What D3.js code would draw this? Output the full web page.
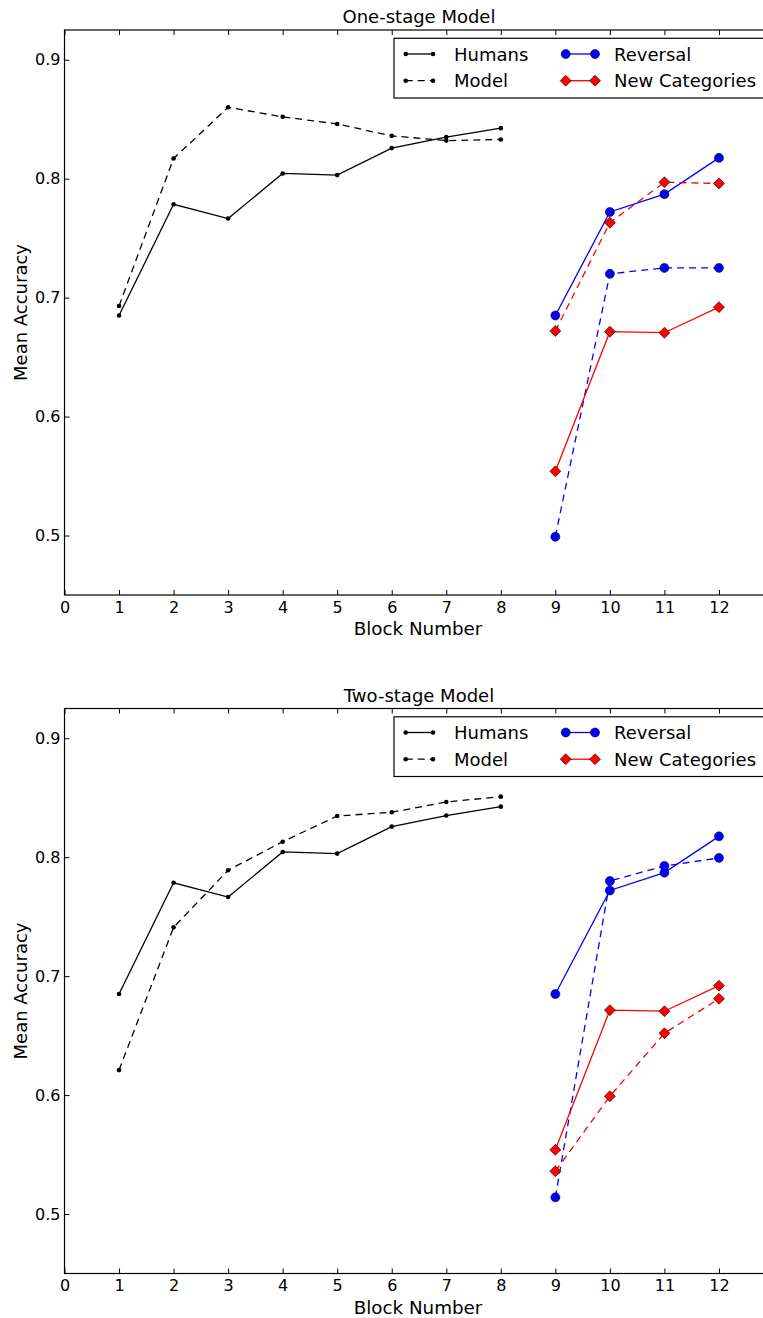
<!DOCTYPE html>
<html>
<head>
<meta charset="utf-8">
<script src="https://cdn.jsdelivr.net/npm/d3@7"></script>
<style>
   body { margin: 0; background: #fff; }
   svg text { font-family: "DejaVu Sans", sans-serif; fill: #000; }
</style>
</head>
<body>
<svg id="chart" width="763" height="1318"></svg>
<script>
// ---- data ----
var learnBlocks = [1, 2, 3, 4, 5, 6, 7, 8];
var transferBlocks = [9, 10, 11, 12];

var humansAcc = [0.685, 0.7785, 0.7665, 0.8044, 0.803, 0.8257, 0.835, 0.8425];
var oneStageModelAcc = [0.693, 0.817, 0.860, 0.852, 0.846, 0.836, 0.832, 0.833];
var twoStageModelAcc = [0.621, 0.741, 0.789, 0.813, 0.8346, 0.8378, 0.8464, 0.8509];

var reversalHumans = [0.685, 0.772, 0.787, 0.8175];
var reversalOneStage = [0.499, 0.720, 0.725, 0.725];
var reversalTwoStage = [0.514, 0.780, 0.7926, 0.7994];

var newCatHumans = [0.554, 0.6714, 0.6705, 0.692];
var newCatOneStage = [0.672, 0.763, 0.797, 0.796];
var newCatTwoStage = [0.536, 0.599, 0.652, 0.681];

var xTicks = [0, 1, 2, 3, 4, 5, 6, 7, 8, 9, 10, 11, 12, 13];
var yTicks = [0.5, 0.6, 0.7, 0.8, 0.9];

var panelTitles = ["One-stage Model", "Two-stage Model"];
var legendLabels = ["Humans", "Model", "Reversal", "New Categories"];

// ---- layout ----
var svg = d3.select("#chart");
var plotLeft = 64.5;          // left spine
var plotRight = 773.5;        // right spine (falls just off the canvas)
var plotHeight = 565;
var panelTops = [30, 708.5];
var dashPattern = "7,5";
var blue = "#0000ff", red = "#ff0000";

var x = d3.scaleLinear().domain([0, 13]).range([plotLeft, plotRight]);

function diamondPath(r){
   return "M0," + (-r) + "L" + r + ",0L0," + r + "L" + (-r) + ",0Z";
}

// draws one series: line + markers
function drawSeries(g, y, xs, ys, color, dashed, marker){
   var pts = xs.map(function(d, i){ return [d, ys[i]]; });
   var line = d3.line()
      .x(function(d){ return x(d[0]); })
      .y(function(d){ return y(d[1]); });

   g.append("path")
      .attr("d", line(pts))
      .attr("fill", "none")
      .attr("stroke", color)
      .attr("stroke-width", 1.3)
      .attr("stroke-dasharray", dashed ? dashPattern : null);

   if(marker == "dot"){
      g.selectAll(null).data(pts).enter().append("circle")
         .attr("cx", function(d){ return x(d[0]); })
         .attr("cy", function(d){ return y(d[1]); })
         .attr("r", 2.3)
         .attr("fill", "#000");
   }
   else if(marker == "circle"){
      g.selectAll(null).data(pts).enter().append("circle")
         .attr("cx", function(d){ return x(d[0]); })
         .attr("cy", function(d){ return y(d[1]); })
         .attr("r", 4.5)
         .attr("fill", color)
         .attr("stroke", "#000")
         .attr("stroke-width", 0.6);
   }
   else {
      g.selectAll(null).data(pts).enter().append("path")
         .attr("transform", function(d){ return "translate(" + x(d[0]) + "," + y(d[1]) + ")"; })
         .attr("d", diamondPath(5.5))
         .attr("fill", color)
         .attr("stroke", "#000")
         .attr("stroke-width", 0.6);
   }
}

// legend handle: short line with a marker at both ends
function drawHandle(g, x1, x2, yy, color, dashed, marker){
   g.append("line")
      .attr("x1", x1).attr("x2", x2).attr("y1", yy).attr("y2", yy)
      .attr("stroke", color)
      .attr("stroke-width", 1.3)
      .attr("stroke-dasharray", dashed ? dashPattern : null);
   [x1, x2].forEach(function(px){
      if(marker == "dot"){
         g.append("circle").attr("cx", px).attr("cy", yy).attr("r", 2.3).attr("fill", "#000");
      }
      else if(marker == "circle"){
         g.append("circle").attr("cx", px).attr("cy", yy).attr("r", 4.5)
            .attr("fill", color).attr("stroke", "#000").attr("stroke-width", 0.6);
      }
      else {
         g.append("path").attr("transform", "translate(" + px + "," + yy + ")")
            .attr("d", diamondPath(5.5))
            .attr("fill", color).attr("stroke", "#000").attr("stroke-width", 0.6);
      }
   });
}

function drawPanel(idx, modelAcc, reversalModel, newCatModel){
   var top = panelTops[idx];
   var bottom = top + plotHeight;
   var y = d3.scaleLinear().domain([0.45, 0.925]).range([bottom, top]);
   var g = svg.append("g");

   // data
   drawSeries(g, y, learnBlocks, humansAcc, "#000", false, "dot");
   drawSeries(g, y, learnBlocks, modelAcc, "#000", true, "dot");
   drawSeries(g, y, transferBlocks, reversalHumans, blue, false, "circle");
   drawSeries(g, y, transferBlocks, reversalModel, blue, true, "circle");
   drawSeries(g, y, transferBlocks, newCatHumans, red, false, "diamond");
   drawSeries(g, y, transferBlocks, newCatModel, red, true, "diamond");

   // axes: ticks point inward, on all four sides
   var xAxis = g.append("g").attr("transform", "translate(0," + bottom + ")")
      .call(d3.axisBottom(x).tickValues(xTicks).tickSize(-5).tickPadding(6.5).tickFormat(d3.format("d")));
   var xTop = g.append("g").attr("transform", "translate(0," + top + ")")
      .call(d3.axisTop(x).tickValues(xTicks).tickSize(-5).tickFormat(""));
   var yAxis = g.append("g").attr("transform", "translate(" + plotLeft + ",0)")
      .call(d3.axisLeft(y).tickValues(yTicks).tickSize(-5).tickPadding(4).tickFormat(d3.format(".1f")));
   var yRight = g.append("g").attr("transform", "translate(" + plotRight + ",0)")
      .call(d3.axisRight(y).tickValues(yTicks).tickSize(-5).tickFormat(""));

   [xAxis, xTop, yAxis, yRight].forEach(function(a){
      a.select(".domain").remove();
      a.selectAll(".tick line").attr("stroke", "#000").attr("stroke-width", 1);
      a.selectAll("text").attr("font-size", 16).attr("font-family", "DejaVu Sans");
   });
   xAxis.selectAll(".tick").filter(function(d){ return d > 12; }).remove();

   // frame
   g.append("rect")
      .attr("x", plotLeft).attr("y", top)
      .attr("width", plotRight - plotLeft).attr("height", plotHeight)
      .attr("fill", "none").attr("stroke", "#000").attr("stroke-width", 1.2);

   // labels
   g.append("text")
      .attr("x", (plotLeft + plotRight) / 2).attr("y", top - 7)
      .attr("text-anchor", "middle").attr("font-size", 18)
      .text(panelTitles[idx]);
   g.append("text")
      .attr("x", (plotLeft + plotRight) / 2 - 1).attr("y", bottom + 40)
      .attr("text-anchor", "middle").attr("font-size", 18.3)
      .text("Block Number");
   g.append("text")
      .attr("transform", "translate(27," + (top + plotHeight / 2) + ") rotate(-90)")
      .attr("text-anchor", "middle").attr("font-size", 18)
      .text("Mean Accuracy");

   // legend
   var lg = g.append("g");
   var lgTop = top + 8.3;
   lg.append("rect")
      .attr("x", 394).attr("y", lgTop).attr("width", 380).attr("height", 59.7)
      .attr("fill", "#fff").attr("stroke", "#000").attr("stroke-width", 1.2);
   var rowY = [lgTop + 15.7, lgTop + 42.4];
   drawHandle(lg, 405.7, 433, rowY[0], "#000", false, "dot");
   drawHandle(lg, 405.7, 433, rowY[1], "#000", true, "dot");
   drawHandle(lg, 565.7, 595, rowY[0], blue, false, "circle");
   drawHandle(lg, 565.7, 595, rowY[1], red, false, "diamond");
   var textPos = [[454, rowY[0]], [454, rowY[1]], [614, rowY[0]], [614, rowY[1]]];
   legendLabels.forEach(function(lbl, i){
      lg.append("text")
         .attr("x", textPos[i][0]).attr("y", textPos[i][1])
         .attr("dominant-baseline", "central")
         .attr("font-size", 18)
         .text(lbl);
   });
}

drawPanel(0, oneStageModelAcc, reversalOneStage, newCatOneStage);
drawPanel(1, twoStageModelAcc, reversalTwoStage, newCatTwoStage);
</script>
</body>
</html>
